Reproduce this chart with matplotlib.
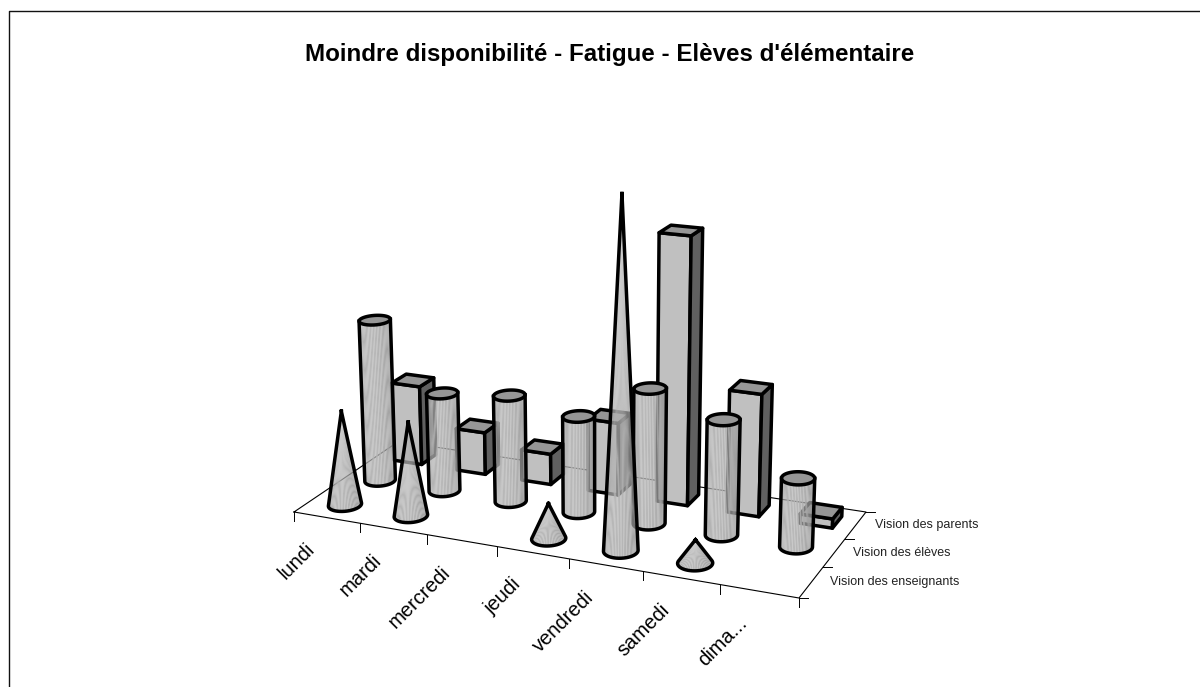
import numpy as np
import matplotlib
matplotlib.use("Agg")
import matplotlib.pyplot as plt
from matplotlib.patches import Polygon

plt.rcParams['font.family'] = ['Liberation Sans', 'DejaVu Sans']

titre = "Moindre disponibilité - Fatigue - Elèves d'élémentaire"
jours = ["lundi", "mardi", "mercredi", "jeudi", "vendredi", "samedi", "dima..."]
series = ["Vision des enseignants", "Vision des élèves", "Vision des parents"]

# valeurs
enseignants = [9.3, 9.2, 0, 3.4, 32.4, 2.2, 0]
eleves = [16.2, 9.8, 10.5, 9.4, 13.0, 11.0, 6.5]
parents = [8.1, 4.3, 3.1, 7.2, 26.0, 11.9, 0.9]

# coins du sol en pixels et point de fuite vertical
coins_sol = [(294, 512), (799, 598), (866, 512), (398.5, 441.5)]
fuite = np.array([600.0, 7000.0, 1.0])
noir = 2.5
ev = 1.15


def homographie():
    src = [(0, 0), (7, 0), (7, 3), (0, 3)]
    A = []
    b = []
    for (u, v), (x, y) in zip(src, coins_sol):
        A.append([u, v, 1, 0, 0, 0, -u * x, -v * x])
        A.append([0, 0, 0, u, v, 1, -u * y, -v * y])
        b += [x, y]
    h = np.linalg.solve(np.array(A, float), np.array(b, float))
    return np.append(h, 1).reshape(3, 3)


H = homographie()
s = -10.0 / 6500
P = np.column_stack([H[:, 0], H[:, 1], s * fuite, H[:, 2]])


def proj(u, v, z=0.0):
    u, v, z = np.broadcast_arrays(u, v, z)
    q = P @ np.vstack([u.ravel(), v.ravel(), z.ravel(), np.ones(u.size)])
    return np.column_stack([q[0] / q[2], q[1] / q[2]])


fig = plt.figure(figsize=(12, 6.87), dpi=100)
ax = fig.add_axes([0, 0, 1, 1])
ax.set_xlim(0, 1200)
ax.set_ylim(687, 0)
ax.axis("off")

ax.plot([8.5, 8.5, 1200], [687, 10.5, 10.5], color="#111111", lw=1.0)
ax.text(610, 54, titre, ha="center", va="center", fontsize=17.4, fontweight="bold")

# sol et graduations
sol = proj([0, 7, 7, 0, 0], [0, 0, 3, 3, 0])
ax.plot(sol[:, 0], sol[:, 1], color="k", lw=0.8, zorder=1)
for i in range(8):
    p = proj(i, 0)[0]
    ax.plot([p[0], p[0]], [p[1], p[1] + 9], color="k", lw=0.7, zorder=1)
for i in range(4):
    p = proj(7, i)[0]
    ax.plot([p[0], p[0] + 9], [p[1], p[1]], color="k", lw=0.7, zorder=1)
for i, j in enumerate(jours):
    p = proj(i + 0.5, 0)[0]
    ax.text(p[0] - 8, p[1] + 22, j, rotation=45, ha="right", va="top", fontsize=14.5)
for i, nom in enumerate(series):
    p = proj(7, i + 0.5)[0]
    ax.text(p[0] + 19, p[1], nom, ha="left", va="center", fontsize=9.0, color="#222222")

ordre = [10]


def z_suivant():
    ordre[0] += 1
    return ordre[0]


def gris(t):
    return 0.52 + 0.19 * np.sin(np.pi * t ** 0.75)


def cercle(cu, cv, r, t):
    return cu + r * np.cos(t), cv + ev * r * np.sin(t)


def arc_avant(cu, cv, r, cle):
    t = np.linspace(0, 2 * np.pi, 180, endpoint=False)
    pts = proj(*cercle(cu, cv, r, t))
    k = cle(pts)
    t0, t1 = t[np.argmin(k)], t[np.argmax(k)]
    if t1 < t0:
        t1 += 2 * np.pi
    return np.linspace(t0, t1, 34)


def boite(i, j, val, w=0.22):
    cu, cv = i + 0.53, j + 0.5
    u0, u1, v0, v1 = cu - w, cu + w, cv - w, cv + w
    faces = [
        ([u0, u1, u1, u0], [v0, v0, v0, v0], [0, 0, val, val], "#C0C0C0"),
        ([u1, u1, u1, u1], [v0, v1, v1, v0], [0, 0, val, val], "#606060"),
        ([u0, u1, u1, u0], [v0, v0, v1, v1], [val] * 4, "#969696"),
    ]
    for us, vs, zs, c in faces:
        ax.add_patch(Polygon(proj(us, vs, zs), closed=True, fc=c, ec="k", lw=noir,
                             joinstyle="round", zorder=z_suivant()))


def cylindre(i, j, val, r=0.205):
    cu, cv = i + 0.5, j + 0.5
    ts = arc_avant(cu, cv, r, lambda p: p[:, 0])
    us, vs = cercle(cu, cv, r, ts)
    bas = proj(us, vs, 0)
    haut = proj(us, vs, val)
    z = z_suivant()
    for n in range(len(ts) - 1):
        quad = [bas[n], bas[n + 1], haut[n + 1], haut[n]]
        g = gris(n / (len(ts) - 2))
        ax.add_patch(Polygon(quad, closed=True, fc=(g, g, g, 0.94), ec="none", zorder=z))
    t = np.linspace(0, 2 * np.pi, 80)
    top = proj(*cercle(cu, cv, r, t), val)
    ax.add_patch(Polygon(top, closed=True, fc="#969696", ec="k", lw=noir, zorder=z + 0.5))
    contour = np.vstack([haut[0], bas, haut[-1]])
    ax.plot(contour[:, 0], contour[:, 1], color="k", lw=noir, zorder=z + 0.6,
            solid_joinstyle="round")


def cone(i, j, val, r=0.215):
    cu, cv = i + 0.5, j + 0.5
    apex = proj(cu, cv, val)[0]
    ts = arc_avant(cu, cv, r, lambda p: -np.arctan2(p[:, 0] - apex[0], p[:, 1] - apex[1]))
    if np.sin(ts).mean() > 0:
        ts = arc_avant(cu, cv, r, lambda p: np.arctan2(p[:, 0] - apex[0], p[:, 1] - apex[1]))
    bas = proj(*cercle(cu, cv, r, ts), 0)
    z = z_suivant()
    for n in range(len(ts) - 1):
        g = gris(n / (len(ts) - 2))
        ax.add_patch(Polygon([apex, bas[n], bas[n + 1]], closed=True, fc=(g, g, g, 0.94),
                             ec="none", zorder=z))
    contour = np.vstack([apex, bas, apex])
    ax.plot(contour[:, 0], contour[:, 1], color="k", lw=noir, zorder=z + 0.6,
            solid_joinstyle="round")


# du fond vers l'avant
for i, val in enumerate(parents):
    if val > 0:
        boite(i, 2, val)
for i, val in enumerate(eleves):
    if val > 0:
        cylindre(i, 1, val)
for i, val in enumerate(enseignants):
    if val > 0:
        cone(i, 0, val)

fig.savefig("out.png", dpi=100)
